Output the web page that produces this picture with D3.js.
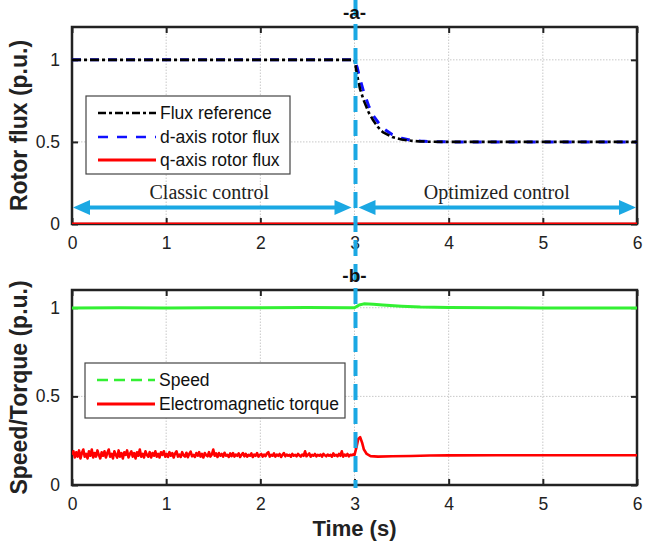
<!DOCTYPE html>
<html><head><meta charset="utf-8">
<script src="https://cdn.jsdelivr.net/npm/d3@7"></script>
<style>body{margin:0;background:#fff}svg{display:block}</style>
</head><body>
<script>
// ---------- data ----------
const xTicks = [0,1,2,3,4,5,6];
const yTicks = [0,0.5,1];
const switchTime = 3;

const fluxT    = [0,3,3.03,3.06,3.1,3.15,3.2,3.25,3.3,3.4,3.5,3.6,3.7,3.8,4.0,6];
const fluxRef  = [1,1,0.9,0.82,0.75,0.68,0.63,0.59,0.56,0.53,0.515,0.507,0.503,0.501,0.5,0.5];
const fluxD    = [1,1,0.95,0.88,0.8,0.72,0.66,0.62,0.585,0.545,0.522,0.51,0.505,0.502,0.5,0.5];
const fluxQT   = [0,6];
const fluxQ    = [0,0];

// torque before the switch, sampled every 0.015 s
const torque1 = [
0.17,0.19,0.155,0.185,0.16,0.195,0.15,0.18,0.2,0.16,0.175,0.15,0.19,0.165,0.2,0.155,0.18,0.16,0.195,0.17,
0.15,0.185,0.165,0.19,0.155,0.18,0.2,0.16,0.175,0.15,0.19,0.17,0.155,0.195,0.16,0.18,0.15,0.185,0.17,0.195,
0.155,0.175,0.19,0.16,0.18,0.15,0.185,0.165,0.2,0.16,0.175,0.155,0.19,0.17,0.16,0.185,0.155,0.18,0.165,0.19,
0.16,0.175,0.155,0.185,0.17,0.19,0.16,
0.175,0.158,0.185,0.165,0.18,0.155,0.178,0.19,0.16,0.172,0.158,0.185,0.168,0.16,0.182,0.157,0.175,0.188,0.162,0.17,
0.158,0.18,0.165,0.185,0.16,0.175,0.155,0.18,0.168,0.162,0.185,0.16,0.172,0.2,0.165,0.178,0.158,0.18,0.165,0.175,
0.16,0.182,0.165,0.17,0.158,0.178,0.163,0.18,0.16,0.172,0.165,0.178,0.158,0.17,0.18,0.162,0.175,0.16,0.17,0.165,
0.178,0.158,0.172,0.165,0.18,0.16,0.17,
0.175,0.16,0.172,0.163,0.178,0.185,0.16,0.17,0.165,0.178,0.16,0.172,0.165,0.175,0.158,0.17,0.18,0.162,0.172,0.165,
0.17,0.16,0.175,0.165,0.17,0.162,0.175,0.168,0.16,0.172,0.165,0.19,0.162,0.17,0.178,0.16,0.17,0.165,0.175,0.162,
0.17,0.165,0.172,0.16,0.175,0.168,0.162,0.172,0.165,0.17,0.16,0.178,0.165,0.17,0.162,0.175,0.165,0.19,0.16,0.172,
0.165,0.175,0.162,0.17,0.168,0.172];
const torqueT1 = torque1.map((v,i) => i*0.015);
const torqueT2 = [3.0,3.02,3.04,3.06,3.08,3.1,3.13,3.17,3.25,3.4,3.6,3.8,4.0,4.5,5.0,5.5,6.0];
const torque2  = [0.17,0.21,0.26,0.27,0.24,0.2,0.175,0.163,0.16,0.162,0.164,0.166,0.167,0.168,0.168,0.168,0.168];

const speedT = [0,0.5,1,1.5,2,2.5,2.95,3.0,3.05,3.1,3.2,3.3,3.5,3.7,4.0,4.5,5,5.5,6];
const speed  = [0.999,1.0,0.999,1.0,1.0,1.001,1.0,1.0,1.015,1.022,1.02,1.016,1.009,1.004,1.001,1.0,0.999,0.999,0.998];

const legendA = ["Flux reference","d-axis rotor flux","q-axis rotor flux"];
const legendB = ["Speed","Electromagnetic torque"];
const zones = [{label:"Classic control", from:0, to:3},{label:"Optimized control", from:3, to:6}];

// ---------- drawing ----------
const W=645,H=544;
const svg=d3.select("body").append("svg").attr("width",W).attr("height",H);
const x=d3.scaleLinear().domain([0,6]).range([72,637]);
const yA=d3.scaleLinear().domain([0,1.2]).range([224,27]);
const yB=d3.scaleLinear().domain([0,1.1]).range([485,290]);
const cyan="#1BA8E3";
const fontSans="'Liberation Sans', Arial, sans-serif";

function frame(y, ylabel){
  const g=svg.append("g");
  const [y0,y1]=y.range();
  g.selectAll(".gx").data(xTicks.slice(1,-1)).enter().append("line")
    .attr("x1",d=>x(d)).attr("x2",d=>x(d)).attr("y1",y0).attr("y2",y1)
    .attr("stroke","#c8c8c8").attr("stroke-width",1).attr("stroke-dasharray","1.5,1.5");
  g.selectAll(".gy").data(yTicks.filter(v=>v>0)).enter().append("line")
    .attr("x1",x(0)).attr("x2",x(6)).attr("y1",d=>y(d)).attr("y2",d=>y(d))
    .attr("stroke","#c8c8c8").attr("stroke-width",1).attr("stroke-dasharray","1.5,1.5");
  const ax=g.append("g").attr("transform",`translate(0,${y0})`)
    .call(d3.axisBottom(x).tickValues(xTicks).tickFormat(d3.format("d")).tickSizeInner(-6).tickSizeOuter(0).tickPadding(13));
  const axT=g.append("g").attr("transform",`translate(0,${y1})`)
    .call(d3.axisTop(x).tickValues(xTicks).tickFormat("").tickSizeInner(-6).tickSizeOuter(0));
  const ay=g.append("g").attr("transform",`translate(${x(0)},0)`)
    .call(d3.axisLeft(y).tickValues(yTicks).tickFormat(d=>d===0.5?"0.5":d3.format("d")(d)).tickSizeInner(-6).tickSizeOuter(0).tickPadding(12));
  const ayR=g.append("g").attr("transform",`translate(${x(6)},0)`)
    .call(d3.axisRight(y).tickValues(yTicks).tickFormat("").tickSizeInner(-6).tickSizeOuter(0));
  [ax,axT,ay,ayR].forEach(a=>{
    a.select(".domain").remove();
    a.selectAll(".tick line").attr("stroke","#222").attr("stroke-width",2);
    a.selectAll("text").attr("font-family",fontSans).attr("font-size",17.5).attr("fill","#222");
  });
  g.append("rect").attr("x",x(0)).attr("y",y1).attr("width",x(6)-x(0)).attr("height",y0-y1)
    .attr("fill","none").attr("stroke","#222").attr("stroke-width",2.5);
  g.append("text").attr("transform",`translate(27,${(y0+y1)/2}) rotate(-90)`).attr("text-anchor","middle")
    .attr("font-family",fontSans).attr("font-weight","bold").attr("font-size",23).attr("fill","#222").text(ylabel);
  return g;
}

const gA=frame(yA,"Rotor flux (p.u.)");
const gB=frame(yB,"Speed/Torque (p.u.)");

svg.append("clipPath").attr("id","cA").append("rect").attr("x",x(0)).attr("y",yA.range()[1]).attr("width",x(6)-x(0)).attr("height",yA.range()[0]-yA.range()[1]);
svg.append("clipPath").attr("id","cB").append("rect").attr("x",x(0)).attr("y",yB.range()[1]).attr("width",x(6)-x(0)).attr("height",yB.range()[0]-yB.range()[1]);

function path(g, ts, vs, y, color, w, dash, clip){
  const line=d3.line().x(d=>x(d[0])).y(d=>y(d[1]));
  const p=g.append("path").datum(ts.map((t,i)=>[t,vs[i]])).attr("d",line)
    .attr("fill","none").attr("stroke",color).attr("stroke-width",w).attr("stroke-linejoin","round");
  if(dash) p.attr("stroke-dasharray",dash);
  if(clip) p.attr("clip-path",`url(#${clip})`);
  return p;
}

// plot a
path(gA, fluxQT, fluxQ, yA, "#ff0000", 3, null, "cA");
path(gA, fluxT, fluxD, yA, "#1010ff", 3, "9,9", "cA");
path(gA, fluxT, fluxRef, yA, "#000", 2.6, "9,3,3,3", "cA");

const arrowY=0.1;
zones.forEach((z,i)=>{
  const xa=x(z.from)+(i===0?1:4), xb=x(z.to)-(i===0?3:1);
  const yy=yA(arrowY), hl=17, hw=7.5;
  gA.append("line").attr("x1",xa+hl-2).attr("x2",xb-hl+2).attr("y1",yy).attr("y2",yy)
    .attr("stroke",cyan).attr("stroke-width",4);
  gA.append("path").attr("d",`M${xa},${yy}L${xa+hl},${yy-hw}L${xa+hl},${yy+hw}Z`).attr("fill",cyan);
  gA.append("path").attr("d",`M${xb},${yy}L${xb-hl},${yy-hw}L${xb-hl},${yy+hw}Z`).attr("fill",cyan);
  gA.append("text").attr("x",(x(z.from)+x(z.to))/2 + (i===0?-4:1)).attr("y",yy-9).attr("text-anchor","middle")
    .attr("font-family","'Liberation Serif','Times New Roman',serif").attr("font-size",20).attr("fill","#222").text(z.label);
});

// plot b
path(gB, speedT, speed, yB, "#33f033", 3, null, "cB");
path(gB, torqueT1.concat(torqueT2), torque1.concat(torque2), yB, "#ff0000", 2.6, null, "cB");

function legend(g, items, styles, bx, by, bw, bh, rowY){
  g.append("rect").attr("x",bx).attr("y",by).attr("width",bw).attr("height",bh)
    .attr("fill","#fff").attr("stroke","#444").attr("stroke-width",1.2);
  items.forEach((t,i)=>{
    const yy=rowY[i];
    const l=g.append("line").attr("x1",bx+12).attr("x2",bx+70).attr("y1",yy).attr("y2",yy)
      .attr("stroke",styles[i].c).attr("stroke-width",styles[i].w);
    if(styles[i].d) l.attr("stroke-dasharray",styles[i].d);
    g.append("text").attr("x",bx+74).attr("y",yy).attr("dy","0.35em")
      .attr("font-family",fontSans).attr("font-size",17.5).attr("fill","#111").text(t);
  });
}
legend(gA, legendA, [{c:"#000",w:2.5,d:"8,3,3,3"},{c:"#1010ff",w:2.5,d:"10,9"},{c:"#ff0000",w:3}], 86,96,204,78,[113,137,160]);
legend(gB, legendB, [{c:"#33f033",w:2.5,d:"11,6"},{c:"#ff0000",w:3}], 85,363,260,55,[380,404]);

// vertical switch line
svg.append("line").attr("x1",x(switchTime)+1).attr("x2",x(switchTime)+1).attr("y1",0).attr("y2",yB(0)+3)
  .attr("stroke",cyan).attr("stroke-width",4).attr("stroke-dasharray","16,8");

// titles (on top of the switch line)
[["-a-",yA],["-b-",yB]].forEach(([t,y])=>{
  svg.append("text").attr("x",x(3)).attr("y",y.range()[1]-8).attr("text-anchor","middle")
    .attr("font-family",fontSans).attr("font-weight","bold").attr("font-size",19).attr("fill","#111").text(t);
});

svg.append("text").attr("x",x(3)).attr("y",536).attr("text-anchor","middle")
  .attr("font-family",fontSans).attr("font-weight","bold").attr("font-size",22).attr("fill","#222").text("Time (s)");
</script>
</body></html>
